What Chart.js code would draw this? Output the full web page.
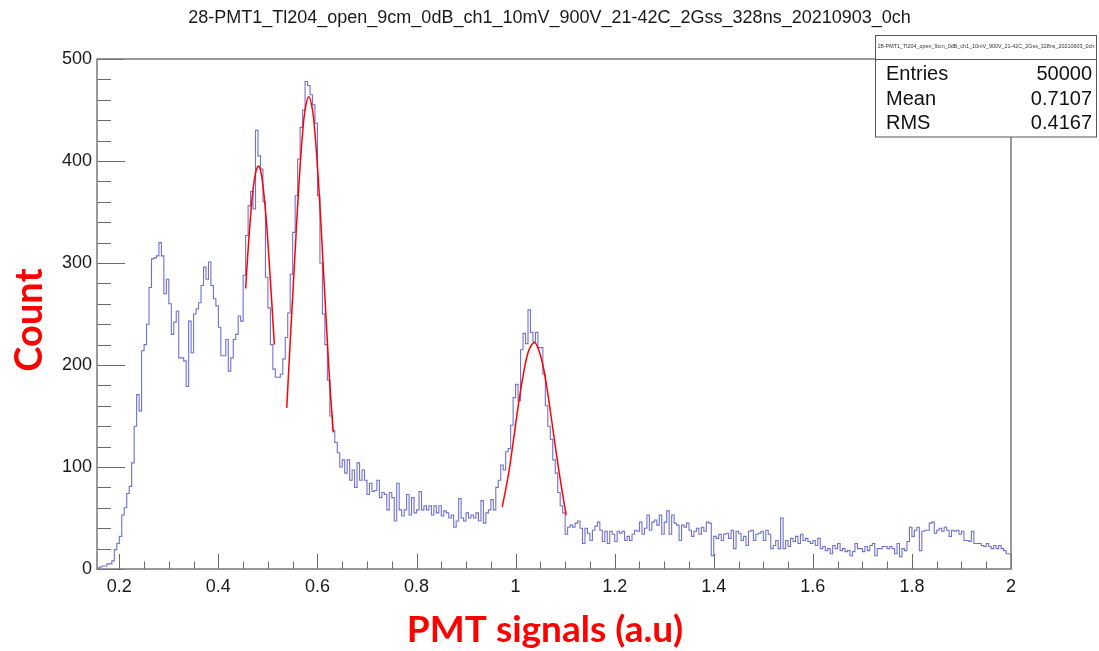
<!DOCTYPE html>
<html>
<head>
<meta charset="utf-8">
<script src="https://cdn.jsdelivr.net/npm/chart.js@4.4.0/dist/chart.umd.min.js"></script>
<style>
  html, body { margin: 0; padding: 0; background: #fff; }
  canvas { display: block; }
</style>
</head>
<body>
<canvas id="histo" width="1099" height="651"></canvas>
<script>
const titleText = "28-PMT1_Tl204_open_9cm_0dB_ch1_10mV_900V_21-42C_2Gss_328ns_20210903_0ch";
const xTitle = "PMT signals (a.u)";
const yTitle = "Count";

// binning of the histogram (bin low edge of first bin, width)
const binLow = 0.155;
const binWidth = 0.005;

// counts per bin, 0.155 .. 0.645
const countsLow = [
  1, 1, 2, 3, 3, 5, 5, 8, 19, 25,
  32, 53, 60, 74, 81, 104, 140, 171, 155, 214,
  220, 240, 276, 304, 305, 307, 320, 307, 270, 284,
  260, 230, 242, 253, 207, 207, 204, 179, 243, 212,
  250, 255, 261, 278, 296, 284, 301, 278, 265, 258,
  237, 209, 209, 225, 194, 207, 225, 230, 248, 243,
  288, 327, 356, 370, 353, 430, 405, 392, 360, 286,
  256, 220, 196, 188, 188, 191, 206, 227, 251, 289,
  330, 366, 402, 433, 450, 478, 474, 465, 455, 437,
  366, 300, 250, 220, 185, 150, 136, 124, 114
];
// 0.650 .. 1.165
const countsMid = [
  100, 107, 94, 107, 87, 97, 80, 104, 87, 97,
  87, 73, 84, 76, 77, 87, 70, 75, 73, 58,
  75, 70, 47, 84, 58, 52, 58, 73, 53, 70,
  55, 58, 76, 58, 62, 58, 62, 53, 62, 55,
  62, 52, 57, 55, 50, 53, 41, 47, 69, 50,
  47, 55, 50, 53, 50, 55, 47, 67, 45, 55,
  58, 68, 58, 80, 87, 102, 97, 115, 118, 141,
  168, 181, 165, 215, 231, 221, 254, 232, 223, 232,
  217, 217, 191, 160, 140, 127, 107, 94, 75, 62,
  55, 34, 41, 43, 41, 45, 47, 40, 25, 40,
  35, 28, 38, 42
];
// 1.170 .. 1.995
const countsHigh = [
  46, 38, 27, 37, 25, 37, 34, 27, 37, 35,
  37, 28, 32, 28, 34, 38, 37, 46, 34, 40,
  53, 38, 46, 48, 43, 53, 34, 46, 57, 34,
  53, 45, 43, 28, 43, 41, 45, 38, 32, 37,
  40, 34, 41, 37, 46, 45, 13, 32, 30, 34,
  28, 34, 35, 30, 38, 20, 37, 35, 28, 32,
  23, 37, 38, 28, 34, 35, 37, 28, 38, 34,
  20, 23, 28, 20, 50, 20, 28, 22, 30, 27,
  32, 25, 34, 28, 30, 27, 25, 28, 23, 30,
  20, 22, 18, 20, 15, 23, 20, 25, 18, 20,
  17, 18, 13, 17, 25, 20, 20, 17, 22, 18,
  23, 25, 13, 20, 20, 22, 22, 20, 22, 20,
  15, 25, 12, 20, 18, 27, 41, 32, 38, 41,
  18, 37, 38, 38, 45, 46, 35, 38, 40, 37,
  41, 38, 32, 38, 37, 38, 34, 37, 28, 28,
  27, 37, 25, 25, 25, 23, 22, 25, 22, 20,
  23, 20, 23, 20, 18, 15
];

// red fit curves
const fit1X = [0.455, 0.46, 0.465, 0.47, 0.475, 0.4805, 0.485, 0.49, 0.495, 0.50, 0.505, 0.51, 0.513];
const fit1Y = [275, 313, 346, 372, 388, 395, 391, 376, 352, 320, 283, 244, 220];
const fit2X = [0.538, 0.545, 0.55, 0.555, 0.56, 0.565, 0.57, 0.575, 0.5825, 0.59, 0.595, 0.60, 0.605, 0.61, 0.615, 0.62, 0.625, 0.632];
const fit2Y = [158, 223, 267, 312, 356, 395, 427, 450, 463, 450, 427, 395, 356, 312, 267, 223, 181, 134];
const fit3X = [0.973, 0.985, 0.995, 1.005, 1.015, 1.025, 1.037, 1.045, 1.055, 1.065, 1.075, 1.085, 1.095, 1.102];
const fit3Y = [61, 91, 124, 159, 189, 212, 222, 217, 200, 172, 138, 104, 73, 53];

const xTicks = [0.2, 0.4, 0.6, 0.8, 1, 1.2, 1.4, 1.6, 1.8, 2];
const yTicks = [0, 100, 200, 300, 400, 500];

const statLabels = ["Entries", "Mean", "RMS"];
const statValues = ["50000", "0.7107", "0.4167"];

const counts = [...countsLow, ...countsMid, ...countsHigh];
const histPoints = counts.map((c, i) => ({ x: binLow + i * binWidth, y: c }));
histPoints.push({ x: binLow + counts.length * binWidth, y: counts[counts.length - 1] });

const zip = (xs, ys) => xs.map((x, i) => ({ x: x, y: ys[i] }));

const tickFont = { family: "'Liberation Sans', Arial, sans-serif", size: 18 };

const fitStyle = {
  borderColor: "#ff0000",
  borderWidth: 1.5,
  tension: 0.4,
  pointRadius: 0,
  fill: false,
  order: 1
};

// ROOT-like frame, inward ticks, titles and the stats box
const rootFrame = {
  id: "rootFrame",
  afterDraw(chart) {
    const { ctx, chartArea: a, scales } = chart;
    const xs = scales.x, ys = scales.y;
    ctx.save();

    ctx.fillStyle = "#1a1a1a";
    ctx.font = "18px 'Liberation Sans', Arial, sans-serif";
    ctx.textAlign = "center";
    ctx.textBaseline = "middle";
    ctx.fillText(titleText, chart.width / 2, 18);

    // axis titles
    ctx.fillStyle = "#ff0000";
    ctx.font = "bold 37px Lato, 'Open Sans', sans-serif";
    ctx.fillText(xTitle, 545, 630);
    ctx.save();
    ctx.translate(30, 320);
    ctx.rotate(-Math.PI / 2);
    ctx.font = "bold 38px Lato, 'Open Sans', sans-serif";
    ctx.fillText(yTitle, 0, 0);
    ctx.restore();

    ctx.strokeStyle = "#6a6a6a";
    ctx.lineWidth = 1;
    ctx.beginPath();
    yTicks.forEach(v => {
      const py = Math.round(ys.getPixelForValue(v)) + 0.5;
      ctx.moveTo(a.left, py);
      ctx.lineTo(a.left + 28, py);
    });
    for (let v = 20; v < 500; v += 20) {
      if (v % 100 === 0) continue;
      const py = Math.round(ys.getPixelForValue(v)) + 0.5;
      ctx.moveTo(a.left, py);
      ctx.lineTo(a.left + 14, py);
    }
    xTicks.forEach(v => {
      const px = Math.round(xs.getPixelForValue(v)) + 0.5;
      ctx.moveTo(px, a.bottom);
      ctx.lineTo(px, a.bottom - 15);
    });
    for (let k = 4; k < 40; k++) {
      if (k % 4 === 0) continue;
      const px = Math.round(xs.getPixelForValue(k * 0.05)) + 0.5;
      ctx.moveTo(px, a.bottom);
      ctx.lineTo(px, a.bottom - 7.5);
    }
    ctx.stroke();

    ctx.strokeStyle = "#7a7a7a";
    ctx.lineWidth = 1.5;
    ctx.strokeRect(a.left, a.top, a.right - a.left, a.bottom - a.top);

    // stats box
    const bx = 875.5, by = 35.5, bw = 221, bh = 101.5;
    ctx.fillStyle = "#fff";
    ctx.fillRect(bx, by, bw, bh);
    ctx.strokeStyle = "#555";
    ctx.lineWidth = 1;
    ctx.strokeRect(bx, by, bw, bh);
    ctx.beginPath();
    ctx.moveTo(bx, a.top + 0.5);
    ctx.lineTo(bx + bw, a.top + 0.5);
    ctx.stroke();

    ctx.fillStyle = "#333";
    ctx.font = "5.4px 'Liberation Sans', Arial, sans-serif";
    ctx.textAlign = "center";
    ctx.fillText(titleText, bx + bw / 2, 47);

    ctx.fillStyle = "#111";
    ctx.font = "20px 'Liberation Sans', Arial, sans-serif";
    const rowY = [74, 99, 123];
    statLabels.forEach((s, i) => {
      ctx.textAlign = "left";
      ctx.fillText(s, 886, rowY[i]);
      ctx.textAlign = "right";
      ctx.fillText(statValues[i], 1092, rowY[i]);
    });
    ctx.restore();
  }
};

new Chart(document.getElementById("histo"), {
  type: "line",
  data: {
    datasets: [
      {
        data: histPoints,
        stepped: "after",
        borderColor: "rgb(112,112,210)",
        borderWidth: 1.1,
        pointRadius: 0,
        fill: false,
        order: 2
      },
      Object.assign({ data: zip(fit1X, fit1Y) }, fitStyle),
      Object.assign({ data: zip(fit2X, fit2Y) }, fitStyle),
      Object.assign({ data: zip(fit3X, fit3Y) }, fitStyle)
    ]
  },
  options: {
    responsive: false,
    animation: false,
    devicePixelRatio: 1,
    events: [],
    layout: { padding: { left: 0, right: 88, top: 59, bottom: 0 } },
    plugins: {
      legend: { display: false },
      tooltip: { enabled: false },
      title: { display: false }
    },
    scales: {
      x: {
        type: "linear",
        min: binLow,
        max: 2,
        grid: { display: false, drawTicks: false },
        border: { display: false },
        afterBuildTicks: s => { s.ticks = xTicks.map(v => ({ value: v })); },
        afterFit: s => { s.height = 82; },
        ticks: {
          autoSkip: false,
          maxRotation: 0,
          padding: 7,
          color: "#1a1a1a",
          font: tickFont,
          callback: v => String(Math.round(v * 10) / 10)
        }
      },
      y: {
        min: 0,
        max: 500,
        grid: { display: false, drawTicks: false },
        border: { display: false },
        afterBuildTicks: s => { s.ticks = yTicks.map(v => ({ value: v })); },
        afterFit: s => { s.width = 97; },
        ticks: {
          padding: 5,
          color: "#1a1a1a",
          font: tickFont
        }
      }
    }
  },
  plugins: [rootFrame]
});
</script>
</body>
</html>
